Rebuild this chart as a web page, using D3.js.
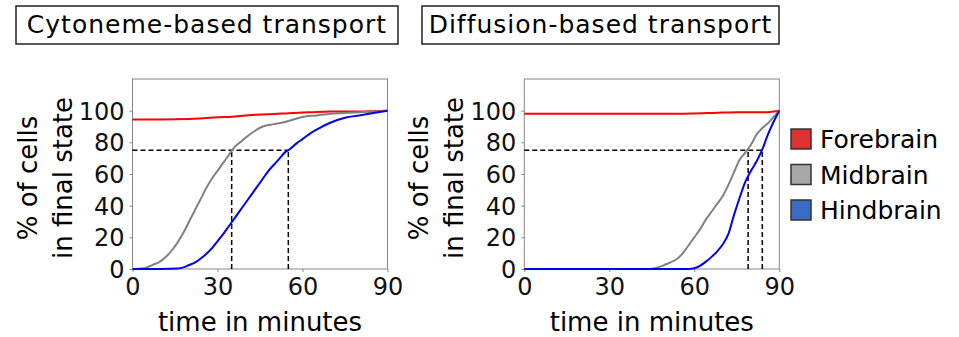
<!DOCTYPE html>
<html>
<head>
<meta charset="utf-8">
<script src="https://cdn.jsdelivr.net/npm/d3@7"></script>
<style>
  body { margin: 0; background: #fff; }
  svg { display: block; font-family: "DejaVu Sans", Verdana, sans-serif; }
</style>
</head>
<body>
<svg width="959" height="337"></svg>
<script>
// Cytoneme-based transport (left panel)
const cytoForeT = [0, 10, 20, 25, 30, 35, 40, 45, 50, 55, 60, 65, 70, 80, 90];
const cytoForeV = [94.5, 94.5, 94.7, 95.2, 95.8, 96.2, 97, 97.6, 97.9, 98.4, 98.8, 99.2, 99.4, 99.5, 100];
const cytoMidT = [0, 3, 5, 7, 10, 12, 14, 16, 18, 20, 22, 24, 26, 28, 30, 32, 34, 36, 38, 40, 43, 46, 50, 53, 56, 60, 65, 70, 75, 80, 85, 90];
const cytoMidV = [0, 0.3, 1, 2.5, 5, 8, 12, 17, 23, 30, 37, 44, 51, 57, 62, 67, 72, 77, 80, 83, 87, 90, 91.5, 92.5, 94, 96, 97, 98, 98.5, 99, 99.5, 100];
const cytoHindT = [0, 10, 16, 18, 20, 22, 24, 26, 28, 30, 32, 34, 36, 38, 40, 42, 44, 46, 48, 50, 52, 54, 55, 58, 60, 63, 66, 70, 75, 80, 85, 90];
const cytoHindV = [0, 0, 0.3, 1, 2.5, 4, 6.5, 9.5, 13, 17.5, 22, 27, 32, 37, 42, 47, 52, 57, 62, 66, 70, 74, 75, 79.5, 82, 86, 89, 92.5, 95.5, 97, 98.5, 100];
const cytoCross = [35, 55];

// Diffusion-based transport (right panel)
const diffForeT = [0, 30, 55, 60, 65, 70, 75, 85, 88, 90];
const diffForeV = [98, 98, 98, 98.2, 98.5, 98.8, 99, 99, 99.5, 100];
const diffMidT = [0, 44, 46, 48, 50, 52, 54, 56, 58, 60, 62, 64, 66, 68, 70, 72, 74, 76, 78, 80, 82, 84, 86, 88, 90];
const diffMidV = [0, 0, 0.5, 1.5, 3, 4.5, 6.5, 10, 15, 20, 25, 31, 36, 41, 46, 53, 61, 69, 73.5, 78.5, 85, 89, 92, 96, 100];
const diffHindT = [0, 58, 60, 62, 64, 66, 68, 70, 72, 74, 76, 78, 80, 82, 84, 86, 88, 90];
const diffHindV = [0, 0, 0.5, 2, 4.5, 7.5, 11, 15.5, 22, 34, 45, 55, 62, 68, 75.5, 85, 93, 100];
const diffCross = [79, 84];

const xTicks = [0, 30, 60, 90];
const yTicks = [0, 20, 40, 60, 80, 100];
const threshold = 75;

const regions = ["Forebrain", "Midbrain", "Hindbrain"];
const lineColors = ["#ff0000", "#808080", "#0000ee"];
const legendColors = ["#e03131", "#a8a8a8", "#3b6cc4"];

const svg = d3.select("svg");

function zipSeries(t, v) {
  return t.map((d, i) => ({ t: d, v: v[i] }));
}

function drawPanel(left, title, boxX, boxW, series, cross) {
  const x = d3.scaleLinear().domain([0, 90]).range([left, left + 255]);
  const y = d3.scaleLinear().domain([0, 120]).range([269, 79]);
  const g = svg.append("g");

  // title box
  g.append("rect")
    .attr("x", boxX).attr("y", 6)
    .attr("width", boxW).attr("height", 38)
    .attr("fill", "none").attr("stroke", "#222").attr("stroke-width", 1.5);
  g.append("text")
    .attr("x", boxX + boxW / 2).attr("y", 33)
    .attr("text-anchor", "middle")
    .attr("font-size", 25).attr("letter-spacing", 1)
    .text(title);

  // frame
  g.append("rect")
    .attr("x", x(0)).attr("y", y(120))
    .attr("width", x(90) - x(0)).attr("height", y(0) - y(120))
    .attr("fill", "none").attr("stroke", "#888").attr("stroke-width", 1);

  // axes
  const xa = g.append("g")
    .attr("transform", `translate(0,${y(0)})`)
    .call(d3.axisBottom(x).tickValues(xTicks).tickSize(3).tickPadding(6));
  const ya = g.append("g")
    .attr("transform", `translate(${x(0)},0)`)
    .call(d3.axisLeft(y).tickValues(yTicks).tickSize(3).tickPadding(5));
  [xa, ya].forEach((a) => {
    a.select(".domain").remove();
    a.selectAll("line").attr("stroke", "#888");
    a.selectAll("text").attr("font-size", 24).attr("fill", "#111")
      .attr("font-family", "DejaVu Sans, Verdana, sans-serif");
  });
  xa.selectAll("text").attr("dy", "0.72em");
  ya.selectAll("text").attr("dy", "0.36em");

  // axis labels
  g.append("text")
    .attr("x", (x(0) + x(90)) / 2).attr("y", 331)
    .attr("text-anchor", "middle").attr("font-size", 26)
    .text("time in minutes");
  const yl = g.append("text")
    .attr("transform", `translate(${x(0) - 96},178) rotate(-90)`)
    .attr("text-anchor", "middle").attr("font-size", 26);
  yl.append("tspan").attr("x", 0).attr("y", 0).text("% of cells");
  yl.append("tspan").attr("x", 0).attr("y", 35).text("in final state");

  // dashed guides
  const dash = g.append("g")
    .attr("fill", "none").attr("stroke", "#000")
    .attr("stroke-width", 1.5).attr("stroke-dasharray", "5,3");
  dash.append("path")
    .attr("d", d3.line()([[x(0), y(threshold)], [x(d3.max(cross)), y(threshold)]]));
  cross.forEach((c) => {
    dash.append("path")
      .attr("d", d3.line()([[x(c), y(0)], [x(c), y(threshold)]]));
  });

  // curves
  const line = d3.line()
    .x((d) => x(d.t))
    .y((d) => y(d.v))
    .curve(d3.curveMonotoneX);
  series.forEach((s, i) => {
    g.append("path")
      .datum(s)
      .attr("fill", "none")
      .attr("stroke", lineColors[i])
      .attr("stroke-width", 2)
      .attr("d", line);
  });
}

drawPanel(132.5, "Cytoneme-based transport", 16, 382, [
  zipSeries(cytoForeT, cytoForeV),
  zipSeries(cytoMidT, cytoMidV),
  zipSeries(cytoHindT, cytoHindV)
], cytoCross);

drawPanel(524.3, "Diffusion-based transport", 422, 357, [
  zipSeries(diffForeT, diffForeV),
  zipSeries(diffMidT, diffMidV),
  zipSeries(diffHindT, diffHindV)
], diffCross);

// legend
const legend = svg.append("g").attr("transform", "translate(791,129)");
const item = legend.selectAll("g")
  .data(regions)
  .enter()
  .append("g")
  .attr("transform", (d, i) => `translate(0,${i * 35.5})`);
item.append("rect")
  .attr("width", 20).attr("height", 20)
  .attr("fill", (d, i) => legendColors[i])
  .attr("stroke", "#333").attr("stroke-width", 1.5);
item.append("text")
  .attr("x", 29).attr("y", 10).attr("dy", "0.36em")
  .attr("font-size", 25)
  .text((d) => d);
</script>
</body>
</html>
